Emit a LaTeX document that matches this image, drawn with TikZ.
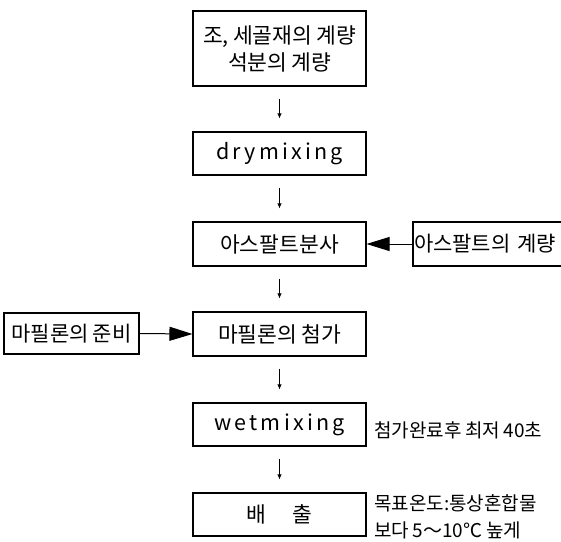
\documentclass[tikz,border=0pt]{standalone}
\usepackage{fontspec}
\setmainfont{Noto Sans CJK KR}[WordSpace=0.85]
\newfontfamily\latinwide[LetterSpace=15]{Noto Sans CJK KR}
\usetikzlibrary{arrows.meta}
\tikzset{
  box/.style={draw=black, line width=1.1pt, rectangle, minimum width=173pt, inner sep=0pt, align=center, font=\fontsize{21.5}{27}\selectfont},
  sidebox/.style={draw=black, line width=1.1pt, rectangle, inner sep=0pt, align=center, font=\fontsize{21}{27}\selectfont},
  flow/.style={line width=0.8pt, -{Latex[length=5pt,width=4.5pt]}, shorten <=12pt, shorten >=13pt},
  feed/.style={line width=1pt, -{Triangle[length=23pt,width=14pt]}},
  note/.style={anchor=west, inner sep=0pt, align=left, font=\fontsize{19}{27}\selectfont}
}
\begin{document}
\begin{tikzpicture}[x=1pt,y=-1pt]
\useasboundingbox (0,0) rectangle (561,541);
\node[box, minimum height=75pt] (b1) at (279.5,48.5) {조, 세골재의 계량\\석분의 계량};
\node[box, minimum height=43pt] (b2) at (279.5,153.5) {\latinwide drymixing};
\node[box, minimum height=44pt] (b3) at (279.5,244) {아스팔트분사};
\node[box, minimum height=44pt] (b4) at (279.5,334) {마필론의 첨가};
\node[box, minimum height=43pt] (b5) at (279.5,424.5) {\latinwide wetmixing};
\node[box, minimum height=43pt] (b6) at (279.5,514.5) {배\hspace{1.2em}출};
\node[sidebox, minimum width=150pt, minimum height=44pt, text width=148pt, align=left] (r3) at (488,244) {아스팔트의 계량};
\node[sidebox, minimum width=135pt, minimum height=41pt] (l4) at (71.5,333.5) {마필론의 준비};
\node[note] (n5) at (374,430) {첨가완료후 최저 40초};
\node[note] (n6) at (374,516.5) {목표온도:통상혼합물\\보다 5～10℃ 높게};
\draw[flow] (b1) -- (b2);
\draw[flow] (b2) -- (b3);
\draw[flow] (b3) -- (b4);
\draw[flow] (b4) -- (b5);
\draw[flow] (b5) -- (b6);
\draw[feed] (r3.west) -- (b3.east);
\draw[feed] (l4.east) -- (b4.west);
\end{tikzpicture}
\end{document}
